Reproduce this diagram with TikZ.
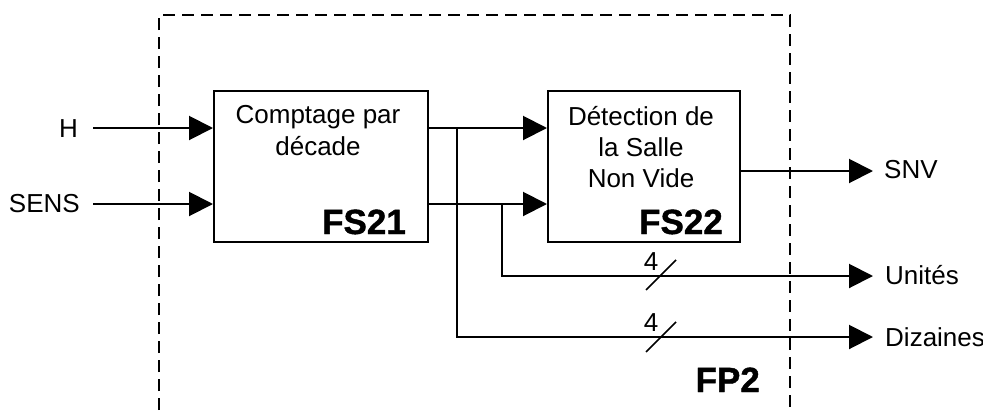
\documentclass[tikz,border=0pt]{standalone}
\usepackage{fontspec}
\setmainfont{Liberation Sans}
\newfontfamily\heavyfont[FakeBold=1.2]{Liberation Sans Bold}
\usetikzlibrary{arrows.meta,calc}
\begin{document}
\begin{tikzpicture}[x=1pt,y=-1pt,
  wire/.style={line width=2pt},
  arr/.style={wire,-{Triangle[length=24pt,width=24pt]}},
  blk/.style={draw,line width=2pt,minimum height=151pt,inner sep=0pt},
  txt/.style={font=\fontsize{26}{31}\selectfont,inner sep=0pt},
  tag/.style={font=\fontsize{35}{35}\heavyfont,inner sep=0pt},
  bus/.style={line width=1.5pt}]
\useasboundingbox (0,0) rectangle (983,410);
% functional boundary FP2 (open at the bottom)
\draw[line width=2.5pt,dash pattern=on 12pt off 7pt]
  (159,410) -- (159,15) -- (790,15) -- (790,410);
\node[tag,anchor=base east] (fp2) at (760,392) {FP2};
% blocks
\node[blk,minimum width=214pt] (fs21) at (321,166.5) {};
\node[blk,minimum width=192pt] (fs22) at (644,166.5) {};
\node[txt,anchor=base] (t21a) at (318,123) {Comptage par};
\node[txt,anchor=base] (t21b) at (318,155) {décade};
\node[txt,anchor=base] (t22a) at (641,125) {Détection de};
\node[txt,anchor=base] (t22b) at (641,156) {la Salle};
\node[txt,anchor=base] (t22c) at (641,187) {Non Vide};
\node[tag,anchor=base east] (n21) at (406,234) {FS21};
\node[tag,anchor=base east] (n22) at (723,234) {FS22};
% inputs
\node[txt,anchor=base east] (h) at (78,137) {H};
\node[txt,anchor=base east] (sens) at (80,212) {SENS};
\coordinate (hs) at (93,128);
\coordinate (ss) at (93,204);
\draw[arr] (hs) -- (hs -| fs21.west);
\draw[arr] (ss) -- (ss -| fs21.west);
% links between blocks
\coordinate (a1) at (fs21.east |- hs);
\coordinate (a2) at (fs21.east |- ss);
\draw[arr] (a1) -- (a1 -| fs22.west);
\draw[arr] (a2) -- (a2 -| fs22.west);
% outputs
\node[txt,anchor=base west] (snv) at (884,178) {SNV};
\node[txt,anchor=base west] (uni) at (885,284) {Unités};
\node[txt,anchor=base west] (diz) at (885,346) {Dizaines};
\coordinate (s0) at (fs22.east |- 0,171);
\coordinate (e0) at (873,171);
\coordinate (e1) at (873,276);
\coordinate (e2) at (873,337);
\draw[arr] (s0) -- (e0);
\coordinate (j1) at (457,128);
\coordinate (j2) at (502,204);
\draw[arr] (j2) |- (e1);
\draw[arr] (j1) |- (e2);
% bus width marks
\coordinate (b1) at (661,275);
\coordinate (b2) at (661,337);
\draw[bus] ($(b1)+(-15,15)$) -- ($(b1)+(15,-15)$);
\draw[bus] ($(b2)+(-15,15)$) -- ($(b2)+(15,-15)$);
\node[txt,anchor=base] (w1) at (651,270) {4};
\node[txt,anchor=base] (w2) at (651,331) {4};
\end{tikzpicture}
\end{document}
